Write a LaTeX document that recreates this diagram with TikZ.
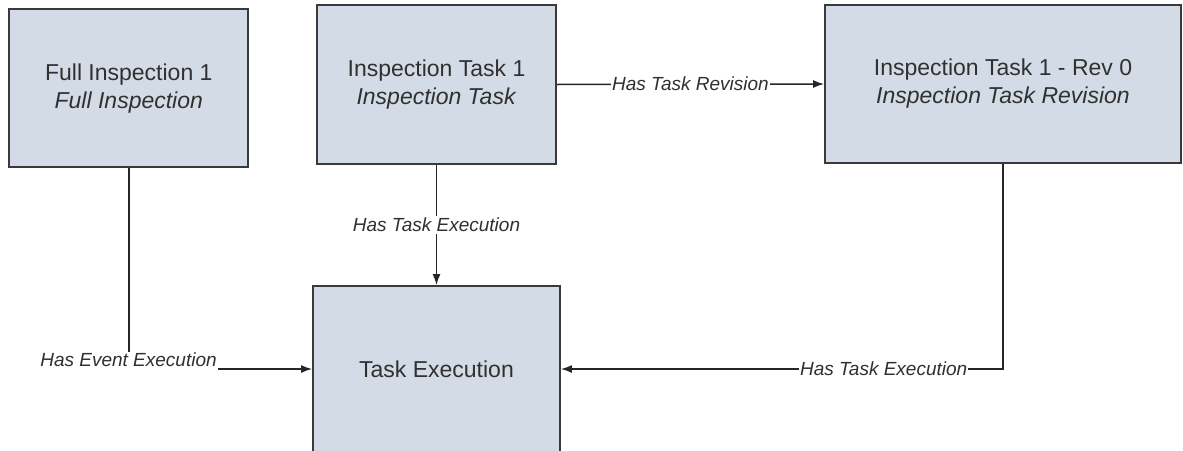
\documentclass[tikz,border=0pt]{standalone}
\usepackage{fontspec}
\setmainfont{Liberation Sans}
\usetikzlibrary{arrows.meta}
\definecolor{boxfill}{HTML}{D3DCE6}
\definecolor{boxdraw}{HTML}{3A3A3A}
\definecolor{txt}{HTML}{303030}
\tikzset{
  entity/.style={draw=boxdraw, line width=1.8pt, fill=boxfill, text=txt, align=center,
    inner sep=0pt, font=\fontsize{23}{28}\selectfont},
  link/.style={draw=black!85, line width=1.5pt, -{Latex[length=11pt,width=8pt]}},
  lbl/.style={fill=white, text=txt, inner sep=1pt, text height=14pt, text depth=2pt,
    font=\fontsize{19}{22}\selectfont\itshape}
}
\begin{document}
\begin{tikzpicture}[x=1pt,y=-1pt]
\useasboundingbox (0,0) rectangle (1183,450);
\clip (0,0) rectangle (1183,450);
\node[entity, minimum width=239pt, minimum height=158pt] (fi) at (128.8,88.3)
  {Full Inspection 1\\\textit{Full Inspection}};
\node[entity, minimum width=239pt, minimum height=159pt] (it) at (436.5,84.5)
  {Inspection Task 1\\\textit{Inspection Task}};
\node[entity, minimum width=356pt, minimum height=158pt] (itr) at (1003,84)
  {Inspection Task 1 - Rev 0\\\textit{Inspection Task Revision}};
\node[entity, minimum width=247pt, minimum height=166pt] (te) at (436.5,369)
  {Task Execution};
\draw[link] (it.east) -- node[lbl] {Has Task Revision} (itr.west);
\draw[link] (it.south) -- node[lbl] {Has Task Execution} (te.north);
\draw[link] (fi.south) |- (te.west);
\node[lbl, text depth=6pt] (lev) at (128.5,362.7) {Has Event Execution};
\draw[link] (itr.south) |- node[lbl, pos=0.635] {Has Task Execution} (te.east);
\end{tikzpicture}
\end{document}
